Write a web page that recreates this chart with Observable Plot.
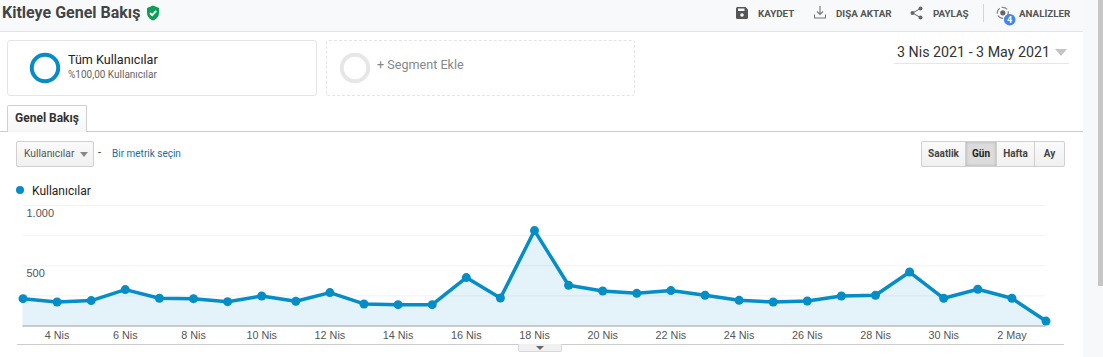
<!DOCTYPE html>
<html lang="tr">
<head>
<meta charset="utf-8">
<script src="https://cdn.jsdelivr.net/npm/d3@7"></script>
<script src="https://cdn.jsdelivr.net/npm/@observablehq/plot@0.6"></script>
<style>
html,body{margin:0;padding:0;background:#fff;overflow:hidden}
#page{position:relative;width:1103px;height:357px;overflow:hidden;font-family:Roboto,sans-serif;color:#333}
#page>div,#page>svg{position:absolute}
.t{white-space:nowrap;line-height:1}
.act{font-weight:700;font-size:9.8px;color:#555;top:8.5px}
.btn{top:141px;height:26px;box-sizing:border-box;border:1px solid #d0d0d0;background:linear-gradient(#fafafa,#f0f0f0);font-weight:700;font-size:10px;color:#444;display:flex;align-items:center;justify-content:center}
#chart{left:0;top:200px}
</style>
</head>
<body>
<div id="page">
  <div style="left:0;top:0;width:1083px;height:31px;background:#f8f9fa;border-bottom:1px solid #e3e4e6"></div>
  <div style="left:1083px;top:0;width:20px;height:357px;background:#f7f8f9"></div>
  <div style="left:1098px;top:0;width:5px;height:286px;background:#c6c6c6"></div>

  <div class="t" style="left:2px;top:5px;font-size:16px;font-weight:700;color:#444">Kitleye Genel Bakış</div>
  <svg style="left:146px;top:5px" width="14" height="16" viewBox="0 0 14 16"><path d="M7 0.5L13 3V8C13 11.5 10.5 14.3 7 15.5C3.5 14.3 1 11.5 1 8V3Z" fill="#0f9d58"/><path d="M4 8L6.2 10.2L10.2 5.8" fill="none" stroke="#fff" stroke-width="1.8"/></svg>

  <svg style="left:736px;top:7px" width="12" height="12" viewBox="0 0 12 12"><path d="M0 1.5Q0 0 1.5 0H9.5L12 2.5V10.5Q12 12 10.5 12H1.5Q0 12 0 10.5Z" fill="#555"/><rect x="2" y="1.5" width="6.5" height="2.5" fill="#f8f9fa"/><circle cx="6" cy="8" r="1.8" fill="#f8f9fa"/></svg>
  <div class="t act" style="left:758px">KAYDET</div>
  <svg style="left:814px;top:6px" width="12" height="13" viewBox="0 0 12 13"><path d="M6 0V8M3 5.5L6 8.5L9 5.5M0.5 8.5V12H11.5V8.5" fill="none" stroke="#777" stroke-width="1.1"/></svg>
  <div class="t act" style="left:836px">DIŞA AKTAR</div>
  <svg style="left:910px;top:6px" width="13" height="14" viewBox="0 0 13 14"><path d="M10.5 2.5L2.5 7L10.5 11.5" fill="none" stroke="#666" stroke-width="1"/><circle cx="10.5" cy="2.5" r="2" fill="#666"/><circle cx="2.5" cy="7" r="2" fill="#666"/><circle cx="10.5" cy="11.5" r="2" fill="#666"/></svg>
  <div class="t act" style="left:933px">PAYLAŞ</div>
  <div style="left:983px;top:4px;width:1px;height:18px;background:#d4d5d7"></div>
  <svg style="left:996px;top:6px" width="20" height="20" viewBox="0 0 20 20"><circle cx="6.8" cy="6.8" r="5.5" fill="none" stroke="#888" stroke-width="1.3" stroke-dasharray="6 2"/><circle cx="6.8" cy="6.8" r="2.6" fill="#666"/><circle cx="13.7" cy="13.7" r="5.8" fill="#4285f4"/><text x="13.7" y="16.8" text-anchor="middle" font-size="9" font-weight="700" fill="#fff" font-family="Roboto">4</text></svg>
  <div class="t act" style="left:1019px">ANALİZLER</div>

  <div style="left:7px;top:40px;width:308px;height:54px;border:1px solid #e4e4e4;border-radius:3px"></div>
  <svg style="left:29px;top:52px" width="32" height="32"><circle cx="16" cy="16" r="13.2" fill="none" stroke="#058dc7" stroke-width="4"/></svg>
  <div class="t" style="left:68px;top:54px;font-size:12.6px;color:#222">Tüm Kullanıcılar</div>
  <div class="t" style="left:68px;top:70px;font-size:10px;color:#666">%100,00 Kullanıcılar</div>
  <div style="left:326px;top:40px;width:307px;height:54px;border:1px dashed #e4e4e4;border-radius:3px"></div>
  <svg style="left:339px;top:52px" width="32" height="32"><circle cx="16" cy="16" r="13.2" fill="none" stroke="#e6e6e6" stroke-width="4"/></svg>
  <div class="t" style="left:377px;top:58.5px;font-size:12.6px;color:#888">+ Segment Ekle</div>

  <div class="t" style="left:897px;top:45px;font-size:14.25px;color:#333">3 Nis 2021 - 3 May 2021</div>
  <svg style="left:1055px;top:49px" width="12" height="7"><path d="M0 0H12L6 7Z" fill="#c4c4c4"/></svg>
  <div style="left:894px;top:63px;width:175px;height:1px;background:#e6e6e6"></div>

  <div style="left:0;top:131px;width:1083px;height:1px;background:#ccc"></div>
  <div class="t" style="left:7px;top:105px;width:78px;height:26px;box-sizing:content-box;border:1px solid #d0d0d0;border-bottom:none;background:linear-gradient(#fff,#f6f6f6);font-size:12px;font-weight:700;color:#333;text-align:center;line-height:24px;border-radius:2px 2px 0 0">Genel Bakış</div>

  <div style="left:16px;top:141px;width:78px;height:26px;box-sizing:border-box;border:1px solid #d0d0d0;border-radius:2px;background:linear-gradient(#fafafa,#f0f0f0)"></div>
  <div class="t" style="left:24px;top:149px;font-size:10.3px;color:#555">Kullanıcılar</div>
  <svg style="left:80px;top:152px" width="8" height="5"><path d="M0 0H8L4 5Z" fill="#888"/></svg>
  <div class="t" style="left:98px;top:147px;font-size:11px;color:#333">-</div>
  <div class="t" style="left:112px;top:149px;font-size:10px;color:#1c6d99">Bir metrik seçin</div>

  <div class="btn t" style="left:921px;width:45px;border-radius:2px 0 0 2px">Saatlik</div>
  <div class="btn t" style="left:965px;width:32px;background:#dcdcdc;box-shadow:inset 0 0 3px #aaa;color:#222">Gün</div>
  <div class="btn t" style="left:996px;width:39px">Hafta</div>
  <div class="btn t" style="left:1034px;width:31px;border-radius:0 2px 2px 0">Ay</div>

  <svg style="left:16px;top:186px" width="8" height="8"><circle cx="4" cy="4" r="4" fill="#058dc7"/></svg>
  <div class="t" style="left:32px;top:184.5px;font-size:12px;color:#222">Kullanıcılar</div>

  <div id="chart"></div>

  <div style="left:17px;top:344px;width:1047px;height:1px;background:#ccc"></div>
  <div style="left:518px;top:344px;width:44px;height:8px;box-sizing:border-box;border:1px solid #d8d8d8;border-top:none;border-radius:0 0 2px 2px;background:#f0f0f0"></div>
  <svg style="left:536px;top:346px" width="8" height="4"><path d="M0 0H8L4 4Z" fill="#666"/></svg>
</div>
<script>
const dates = ["2021-04-03","2021-04-04","2021-04-05","2021-04-06","2021-04-07","2021-04-08","2021-04-09","2021-04-10","2021-04-11","2021-04-12","2021-04-13","2021-04-14","2021-04-15","2021-04-16","2021-04-17","2021-04-18","2021-04-19","2021-04-20","2021-04-21","2021-04-22","2021-04-23","2021-04-24","2021-04-25","2021-04-26","2021-04-27","2021-04-28","2021-04-29","2021-04-30","2021-05-01","2021-05-02","2021-05-03"];
const users = [227,199,211,302,230,227,202,249,205,277,183,177,177,402,232,792,338,290,271,294,255,213,199,207,249,255,448,230,305,230,41];
const xTickDates = ["2021-04-04","2021-04-06","2021-04-08","2021-04-10","2021-04-12","2021-04-14","2021-04-16","2021-04-18","2021-04-20","2021-04-22","2021-04-24","2021-04-26","2021-04-28","2021-04-30","2021-05-02"];
const xTickLabels = ["4 Nis","6 Nis","8 Nis","10 Nis","12 Nis","14 Nis","16 Nis","18 Nis","20 Nis","22 Nis","24 Nis","26 Nis","28 Nis","30 Nis","2 May"];
const yGrid = [250,500,750,1000];
const yTicks = [500,1000];
const yTickLabels = ["500","1.000"];

const rows = dates.map((d,i)=>({date:new Date(d+"T00:00:00Z"),users:users[i]}));
const xTicks = xTickDates.map(d=>new Date(d+"T00:00:00Z"));
const labelOf = new Map(xTicks.map((d,i)=>[+d,xTickLabels[i]]));
const yLabelOf = new Map(yTicks.map((v,i)=>[v,yTickLabels[i]]));

const chart = Plot.plot({
  width:1103,height:157,
  marginLeft:22.5,marginRight:57.5,marginTop:5,marginBottom:31.5,
  style:{background:"transparent",fontFamily:"'Liberation Sans',Arial,sans-serif",overflow:"visible"},
  x:{type:"utc",domain:[rows[0].date,rows[rows.length-1].date]},
  y:{domain:[0,1000]},
  marks:[
    Plot.ruleY(yGrid,{stroke:"#f2f2f2",strokeWidth:1}),
    Plot.areaY(rows,{x:"date",y:"users",fill:"#058dc7",fillOpacity:0.11}),
    Plot.ruleY([0],{stroke:"#999",strokeWidth:1.2}),
    Plot.lineY(rows,{x:"date",y:"users",stroke:"#058dc7",strokeWidth:3.5,curve:"linear"}),
    Plot.dot(rows,{x:"date",y:"users",r:4.5,fill:"#058dc7",stroke:"none"}),
    Plot.axisX(xTicks,{anchor:"bottom",tickSize:0,tickPadding:5.5,tickFormat:d=>labelOf.get(+d),fontSize:10.8,fill:"#555",label:null}),
    Plot.axisY(yTicks,{anchor:"left",tickSize:0,tickPadding:-3.5,textAnchor:"start",dy:8,tickFormat:v=>yLabelOf.get(v),fontSize:11,fill:"#555",label:null})
  ]
});
document.getElementById("chart").appendChild(chart);
</script>
</body>
</html>
